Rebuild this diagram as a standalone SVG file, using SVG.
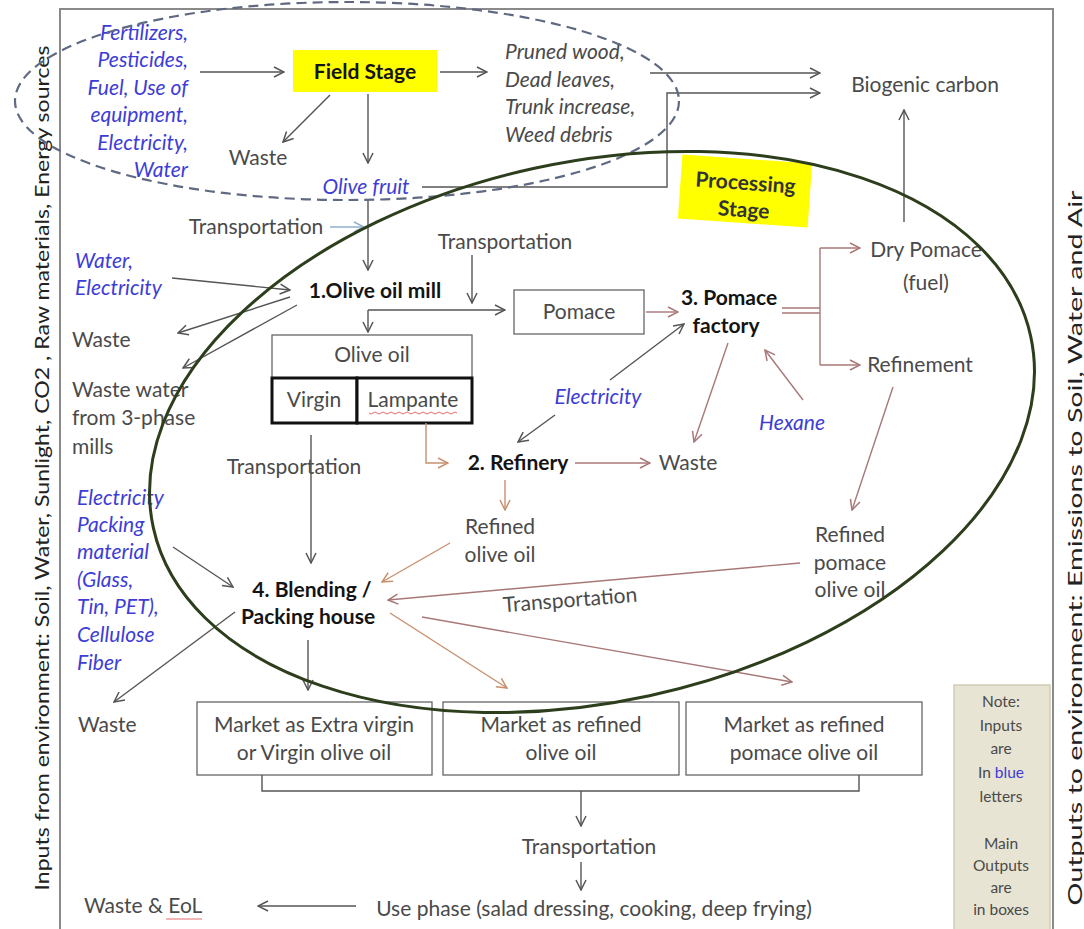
<svg xmlns="http://www.w3.org/2000/svg" width="1084" height="929" viewBox="0 0 1084 929">
<defs>
<style>
text{font-family:Lato,"Liberation Sans",sans-serif;font-size:21px;fill:#4a4a4a}
.b{font-weight:bold;fill:#141414}
.in{fill:#3d3dd6;font-style:italic}
.it{font-style:italic}
.c{text-anchor:middle}
.e{text-anchor:end}
.side{font-size:20px;fill:#222}
.box{fill:#fff;stroke:#666;stroke-width:1.3}
.thick{fill:#fff;stroke:#111;stroke-width:3}
.ln{fill:none;stroke:#555;stroke-width:1.4;marker-end:url(#ad)}
.nm{fill:none;stroke:#555;stroke-width:1.4}
.rose{stroke:#a87878;marker-end:url(#ar)}
.tan{stroke:#c8906e;marker-end:url(#at)}
.lb{stroke:#8fb0cc;marker-end:url(#ab)}
.yl{fill:#ffff00}
.note{font-size:15.5px}
</style>
<marker id="ad" viewBox="0 0 12 12" refX="11" refY="6" markerWidth="12" markerHeight="12" markerUnits="userSpaceOnUse" orient="auto"><path d="M1,1 L11,6 L1,11" fill="none" stroke="#555" stroke-width="1.5"/></marker>
<marker id="ar" viewBox="0 0 12 12" refX="11" refY="6" markerWidth="12" markerHeight="12" markerUnits="userSpaceOnUse" orient="auto"><path d="M1,1 L11,6 L1,11" fill="none" stroke="#a87878" stroke-width="1.5"/></marker>
<marker id="at" viewBox="0 0 12 12" refX="11" refY="6" markerWidth="12" markerHeight="12" markerUnits="userSpaceOnUse" orient="auto"><path d="M1,1 L11,6 L1,11" fill="none" stroke="#c8906e" stroke-width="1.5"/></marker>
<marker id="ab" viewBox="0 0 12 12" refX="11" refY="6" markerWidth="12" markerHeight="12" markerUnits="userSpaceOnUse" orient="auto"><path d="M1,1 L11,6 L1,11" fill="none" stroke="#8fb0cc" stroke-width="1.5"/></marker>
</defs>
<rect width="1084" height="929" fill="#fff"/>
<rect id="frame" x="60" y="9" width="993" height="940" fill="none" stroke="#8a8a8a" stroke-width="2"/>
<text transform="translate(49,468) rotate(-90)" class="c side" textLength="845" lengthAdjust="spacingAndGlyphs">Inputs from environment: Soil, Water, Sunlight, CO2 , Raw materials, Energy sources</text>
<text transform="translate(1082,548) rotate(-90)" class="c side" textLength="715" lengthAdjust="spacingAndGlyphs">Outputs to environment: Emissions to Soil, Water and Air</text>

<g id="field-stage"><rect class="yl" x="293" y="50" width="144" height="42"/><text class="b c" x="365" y="79">Field Stage</text></g>
<g id="field-inputs"><text class="in e" x="188" y="40">Fertilizers,</text><text class="in e" x="188" y="67">Pesticides,</text><text class="in e" x="188" y="95">Fuel, Use of</text><text class="in e" x="188" y="122">equipment,</text><text class="in e" x="188" y="150">Electricity,</text><text class="in e" x="188" y="177">Water</text></g>
<g id="field-waste"><text class="c" x="258" y="165">Waste</text></g>
<g id="olive-fruit"><text class="in c" x="366" y="194">Olive fruit</text></g>
<g id="field-residues"><text class="it" x="505" y="59">Pruned wood,</text><text class="it" x="505" y="87">Dead leaves,</text><text class="it" x="505" y="114">Trunk increase,</text><text class="it" x="505" y="142">Weed debris</text></g>
<g id="biogenic-carbon"><text class="c" x="925" y="92">Biogenic carbon</text></g>
<g id="processing-stage" transform="rotate(4 745 191)"><rect class="yl" x="680" y="159" width="130" height="64"/><text class="b c" x="745" y="190" style="fill:#333">Processing</text><text class="b c" x="745" y="217" style="fill:#333">Stage</text></g>
<g id="transport-1"><text class="c" x="256" y="234">Transportation</text></g>
<g id="transport-2"><text class="c" x="505" y="249">Transportation</text></g>
<g id="olive-oil-mill"><text class="b c" x="375" y="298">1.Olive oil mill</text></g>
<g id="mill-inputs"><text class="in" x="75" y="268">Water,</text><text class="in" x="75" y="295">Electricity</text></g>
<g id="mill-waste"><text x="72" y="347">Waste</text></g>
<g id="mill-waste-water"><text x="72" y="397">Waste water</text><text x="72" y="425">from 3-phase</text><text x="72" y="454">mills</text></g>
<g id="pomace"><rect class="box" x="514" y="290" width="130" height="44"/><text class="c" x="579" y="319">Pomace</text></g>
<g id="pomace-factory"><text class="b c" x="729" y="305">3. Pomace</text><text class="b c" x="726" y="333">factory</text></g>
<g id="dry-pomace"><text class="c" x="926" y="257">Dry Pomace</text><text class="c" x="926" y="290">(fuel)</text></g>
<g id="refinement"><text class="c" x="920" y="372">Refinement</text></g>
<g id="hexane"><text class="in c" x="792" y="430">Hexane</text></g>
<g id="electricity-mid"><text class="in c" x="598" y="404">Electricity</text></g>
<g id="olive-oil"><rect class="box" x="272" y="335" width="200" height="43"/><rect class="thick" x="272" y="378" width="85" height="45"/><rect class="thick" x="357" y="378" width="115" height="45"/><text class="c" x="372" y="362">Olive oil</text><text class="c" x="314" y="407">Virgin</text><text class="c" x="413" y="407">Lampante</text><path d="M369,413 q2,2 4,0 t4,0 t4,0 t4,0 t4,0 t4,0 t4,0 t4,0 t4,0 t4,0 t4,0 t4,0 t4,0 t4,0 t4,0 t4,0 t4,0 t4,0 t4,0 t4,0 t4,0 t4,0" fill="none" stroke="#e04848" stroke-width="0.8"/></g>
<g id="refinery"><text class="b c" x="518" y="470">2. Refinery</text></g>
<g id="refinery-waste"><text class="c" x="688" y="470">Waste</text></g>
<g id="transport-3"><text class="c" x="294" y="474">Transportation</text></g>
<g id="refined-olive-oil"><text class="c" x="500" y="534">Refined</text><text class="c" x="500" y="562">olive oil</text></g>
<g id="refined-pomace-oil"><text class="c" x="850" y="542">Refined</text><text class="c" x="850" y="570">pomace</text><text class="c" x="850" y="597">olive oil</text></g>
<g id="transport-4"><text class="c" x="570" y="607" transform="rotate(-4.5 570 600)">Transportation</text></g>
<g id="blending"><text class="b c" x="312" y="597">4. Blending /</text><text class="b c" x="308" y="624">Packing house</text></g>
<g id="blending-inputs"><text class="in" x="77" y="505">Electricity</text><text class="in" x="77" y="532">Packing</text><text class="in" x="77" y="559">material</text><text class="in" x="77" y="587">(Glass,</text><text class="in" x="77" y="614">Tin, PET),</text><text class="in" x="77" y="642">Cellulose</text><text class="in" x="77" y="670">Fiber</text></g>
<g id="blending-waste"><text x="78" y="732">Waste</text></g>
<g id="market-1"><rect class="box" x="197" y="702" width="235" height="73"/><text class="c" x="314" y="732">Market as Extra virgin</text><text class="c" x="314" y="760">or Virgin olive oil</text></g>
<g id="market-2"><rect class="box" x="443" y="702" width="236" height="73"/><text class="c" x="561" y="732">Market as refined</text><text class="c" x="561" y="760">olive oil</text></g>
<g id="market-3"><rect class="box" x="686" y="702" width="236" height="73"/><text class="c" x="804" y="732">Market as refined</text><text class="c" x="804" y="760">pomace olive oil</text></g>
<g id="transport-5"><text class="c" x="589" y="854">Transportation</text></g>
<g id="use-phase"><text class="c" x="594" y="916">Use phase (salad dressing, cooking, deep frying)</text></g>
<g id="waste-eol"><text x="84" y="913">Waste &amp; EoL</text><path d="M166,919 H202" stroke="#e04848" stroke-width="0.8"/></g>
<g id="note"><rect x="954" y="685" width="96" height="260" fill="#e7e4d4" stroke="#cfcbb5" stroke-width="1.5"/><text class="c note" x="1001" y="707">Note:</text><text class="c note" x="1001" y="731">Inputs</text><text class="c note" x="1001" y="754">are</text><text class="c note" x="1001" y="778">In <tspan fill="#3d3dd6">blue</tspan></text><text class="c note" x="1001" y="802">letters</text><text class="c note" x="1001" y="849">Main</text><text class="c note" x="1001" y="871">Outputs</text><text class="c note" x="1001" y="893">are</text><text class="c note" x="1001" y="915">in boxes</text></g>

<g id="connectors">
<path class="ln" d="M200,72 H284"/>
<path class="ln" d="M330,95 L283,142"/>
<path class="ln" d="M368,94 V163"/>
<path class="ln" d="M440,72 H487"/>
<path class="ln" d="M650,73 H820"/>
<path class="ln" d="M422,187 H667 V93 H820"/>
<path class="ln" d="M904,222 V110"/>
<path class="ln" d="M368,200 V270"/>
<path class="ln lb" d="M330,227 H364"/>
<path class="ln" d="M472,255 V303"/>
<path class="ln" d="M368,310 H505"/>
<path class="ln" d="M368,310 V332"/>
<path class="ln" d="M172,278 L290,290"/>
<path class="ln" d="M290,297 L178,333"/>
<path class="ln" d="M297,305 L183,368"/>
<path class="ln rose" d="M646,312 H678"/>
<path class="nm" style="stroke:#a87878" d="M782,308 H820 M782,313 H820 M820,248 V365"/>
<path class="ln rose" d="M820,248 H860"/>
<path class="ln rose" d="M820,365 H860"/>
<path class="ln rose" d="M803,400 L765,350"/>
<path class="ln rose" d="M728,343 L694,442"/>
<path class="ln" d="M610,380 L684,324"/>
<path class="ln" d="M555,415 L518,442"/>
<path class="ln tan" d="M426,423 V463 H448"/>
<path class="ln rose" d="M575,463 H650"/>
<path class="ln tan" d="M505,480 V510"/>
<path class="ln tan" d="M450,543 L382,582"/>
<path class="ln rose" d="M893,387 L852,510"/>
<path class="ln rose" d="M800,563 L388,600"/>
<path class="ln tan" d="M390,613 L507,688"/>
<path class="ln rose" d="M422,617 L792,682"/>
<path class="ln" d="M308,640 V690"/>
<path class="ln" d="M235,612 L114,702"/>
<path class="ln" d="M173,547 L233,587"/>
<path class="ln" d="M311,435 V563"/>
<path class="nm" d="M262,775 V791 H859 V775"/>
<path class="ln" d="M581,791 V826"/>
<path class="ln" d="M581,862 V890"/>
<path class="ln" d="M356,906 H258"/>
</g>

<g id="field-boundary"><ellipse cx="347" cy="101" rx="332" ry="99" fill="none" stroke="#5f6a82" stroke-width="2.2" stroke-dasharray="10 6"/></g>
<g id="processing-boundary"><ellipse cx="592" cy="432" rx="449" ry="270" transform="rotate(-12.3 592 432)" fill="none" stroke="#2d3e1c" stroke-width="3"/></g>
</svg>
